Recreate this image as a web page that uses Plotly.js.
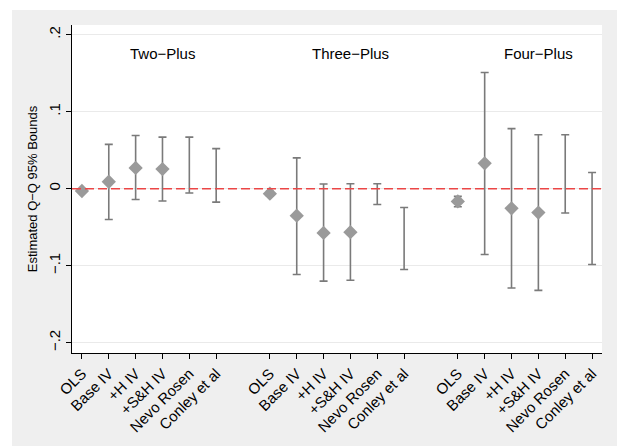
<!DOCTYPE html>
<html>
<head>
<meta charset="utf-8">
<script src="https://cdn.plot.ly/plotly-3.0.1.min.js"></script>
<style>
  html, body { margin: 0; padding: 0; background: #ffffff; }
  #chart { position: absolute; left: 12px; top: 10px; width: 605px; height: 436px; }
</style>
</head>
<body>
<div id="chart"></div>
<script>
// ---- data ----
var groups = ["Two\u2212Plus", "Three\u2212Plus", "Four\u2212Plus"];
var categories = ["OLS", "Base IV", "+H IV", "+S&H IV", "Nevo Rosen", "Conley et al"];

// point estimates (null = no point estimate shown)
var twoPoint   = [-0.003, 0.009, 0.027, 0.0255, null, null];
var threePoint = [-0.0065, -0.035, -0.0575, -0.0565, null, null];
var fourPoint  = [-0.0165, 0.033, -0.0255, -0.031, null, null];

// 95% bounds
var twoLower   = [-0.0055, -0.040, -0.014, -0.016, -0.0055, -0.0175];
var twoUpper   = [-0.0005, 0.0575, 0.069, 0.067, 0.067, 0.052];
var threeLower = [-0.0095, -0.1115, -0.120, -0.119, -0.0205, -0.105];
var threeUpper = [-0.0035, 0.040, 0.006, 0.0065, 0.0065, -0.0245];
var fourLower  = [-0.0235, -0.0855, -0.129, -0.132, -0.0315, -0.0985];
var fourUpper  = [-0.0100, 0.151, 0.078, 0.070, 0.070, 0.021];

var yTickVals = [-0.2, -0.1, 0, 0.1, 0.2];
var yTickText = ["\u2212.2", "\u2212.1", "0", ".1", ".2"];

// ---- build traces ----
var points = [twoPoint, threePoint, fourPoint];
var lowers = [twoLower, threeLower, fourLower];
var uppers = [twoUpper, threeUpper, fourUpper];
var gap = categories.length + 1;

var xs = [], pts = [], mids = [], errs = [], tickVals = [], tickText = [];
var annotations = [];
for (var g = 0; g < groups.length; g++) {
  for (var i = 0; i < categories.length; i++) {
    var x = g * gap + i + 1;
    xs.push(x);
    pts.push(points[g][i]);
    var lo = lowers[g][i], hi = uppers[g][i];
    mids.push((lo + hi) / 2);
    errs.push((hi - lo) / 2);
    tickVals.push(x);
    tickText.push(categories[i]);
  }
  annotations.push({
    x: g * gap + 4, y: 0.175, xref: "x", yref: "y",
    text: groups[g], showarrow: false,
    font: {family: "Liberation Sans, Arial, sans-serif", size: 15, color: "#000"}
  });
}

var ciTrace = {
  x: xs, y: mids, type: "scatter", mode: "markers",
  marker: {opacity: 0, size: 1, color: "#7a7a7a"},
  error_y: {type: "data", symmetric: true, array: errs, color: "#7a7a7a", thickness: 1.6, width: 4},
  hoverinfo: "skip", showlegend: false
};
var ptTrace = {
  x: xs, y: pts, type: "scatter", mode: "markers",
  marker: {symbol: "diamond", size: 11, color: "#9a9a9a"},
  showlegend: false
};

var layout = {
  width: 605, height: 436,
  margin: {l: 60, r: 15, t: 15, b: 93},
  paper_bgcolor: "#efefef",
  plot_bgcolor: "#ffffff",
  font: {family: "Liberation Sans, Arial, sans-serif", size: 14, color: "#000"},
  xaxis: {
    range: [0.63, 20.37],
    tickmode: "array", tickvals: tickVals, ticktext: tickText,
    tickangle: -45, ticks: "outside", ticklen: 5, tickcolor: "#000", tickwidth: 1,
    showline: true, linecolor: "#000", linewidth: 1, mirror: false,
    showgrid: false, zeroline: false,
    tickfont: {size: 15}
  },
  yaxis: {
    range: [-0.2134, 0.2126],
    tickmode: "array", tickvals: yTickVals, ticktext: yTickText,
    tickangle: -90, ticks: "outside", ticklen: 5, tickcolor: "#000", tickwidth: 1,
    showline: true, linecolor: "#000", linewidth: 1,
    showgrid: true, gridcolor: "#eaeaea", gridwidth: 1, zeroline: false,
    tickfont: {size: 15},
    title: {text: "Estimated Q\u2212Q 95% Bounds", font: {size: 13}, standoff: 5}
  },
  shapes: [{
    type: "line", xref: "paper", x0: 0, x1: 1, yref: "y", y0: 0, y1: 0,
    line: {color: "rgb(235,70,70)", width: 1.5, dash: "9px,4px"}, layer: "above"
  }],
  annotations: annotations
};

Plotly.newPlot("chart", [ciTrace, ptTrace], layout, {displayModeBar: false, staticPlot: true});
</script>
</body>
</html>
